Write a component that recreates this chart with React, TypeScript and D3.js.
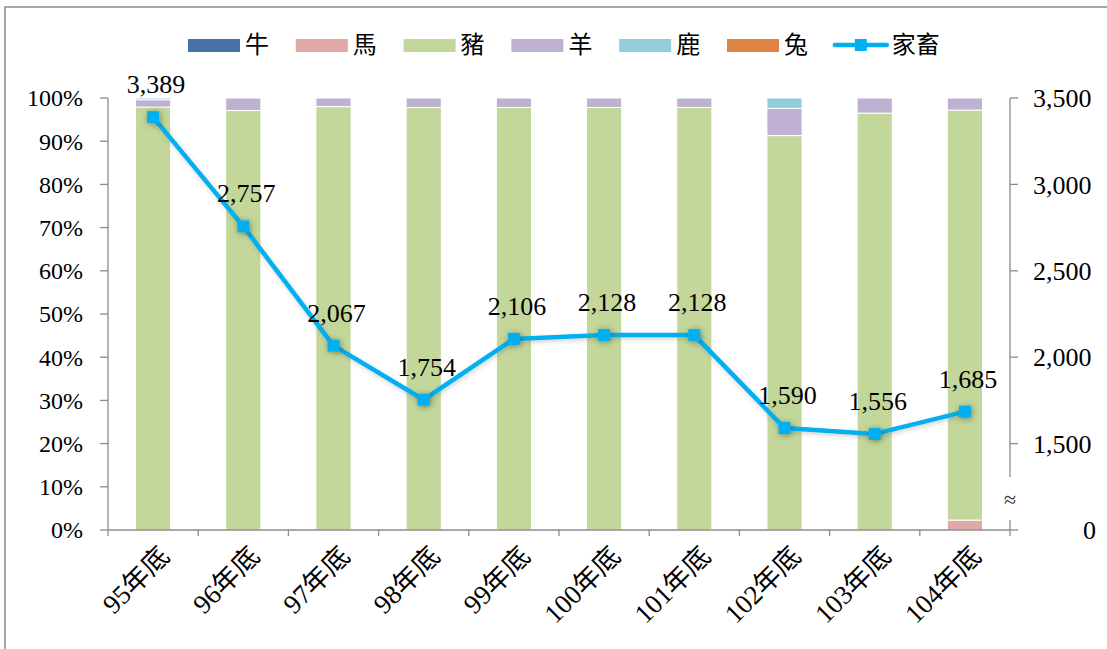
import React from "react";
import * as d3 from "d3";

const categories = ["95年底", "96年底", "97年底", "98年底", "99年底", "100年底", "101年底", "102年底", "103年底", "104年底"];
const cattle = [0, 0, 0, 0, 0, 0, 0, 0, 0, 0];
const horse = [0, 0, 0, 0, 0, 0, 0, 0, 0, 2.3];
const pig = [97.9, 97.1, 98.0, 97.8, 97.8, 97.8, 97.8, 91.3, 96.5, 94.9];
const sheep = [1.7, 2.9, 2.0, 2.2, 2.2, 2.2, 2.2, 6.3, 3.5, 2.8];
const deer = [0.4, 0, 0, 0, 0, 0, 0, 2.4, 0, 0];
const rabbit = [0, 0, 0, 0, 0, 0, 0, 0, 0, 0];
const livestock = [3389, 2757, 2067, 1754, 2106, 2128, 2128, 1590, 1556, 1685];

const seriesNames = ["牛", "馬", "豬", "羊", "鹿", "兔"];
const seriesColors = ["#4672A8", "#E0A9A7", "#C4D79B", "#BFB1D1", "#93CDDC", "#DE8440"];
const seriesValues = [cattle, horse, pig, sheep, deer, rabbit];
const lineName = "家畜";
const lineColor = "#00B0F0";

const pctTicks = [0, 10, 20, 30, 40, 50, 60, 70, 80, 90, 100];
const rightTicks = [1500, 2000, 2500, 3000, 3500];

const W = 1107, H = 649;
const L = 108, R = 1010, T = 98, B = 530;
const serif = "'Liberation Serif', 'Times New Roman', 'Noto Sans CJK TC', serif";
const axisColor = "#8C8C8C";

export default function App() {
  const x = d3.scaleBand<string>().domain(categories).range([L, R]).paddingInner(0.61).paddingOuter(0.305);
  const step = (R - L) / categories.length;
  const yP = d3.scaleLinear().domain([0, 100]).range([B, T]);
  const yR = d3.scaleLinear().domain([1000, 3500]).range([B, T]);

  const rows = categories.map((c, i) => {
    const o: any = { cat: c };
    seriesNames.forEach((s, k) => (o[s] = seriesValues[k][i]));
    return o;
  });
  const stacked = d3.stack<any>().keys(seriesNames)(rows);

  const cx = (c: string) => (x(c) as number) + x.bandwidth() / 2;
  const pts: [number, number][] = categories.map((c, i) => [cx(c), yR(livestock[i])]);
  const line = d3.line()(pts) as string;

  const legendX0 = 188, legendStep = 107.8;
  const legendItems = [...seriesNames, lineName];

  return (
    <svg width={W} height={H} style={{ position: "absolute", left: 0, top: 0, background: "#fff" }}>
      <defs>
        <filter id="sh" x="-100%" y="-100%" width="300%" height="300%">
          <feDropShadow dx="1" dy="1" stdDeviation="3" floodColor="#3a3a20" floodOpacity="0.55" />
        </filter>
        <filter id="lsh" x="-10%" y="-10%" width="120%" height="120%">
          <feDropShadow dx="1" dy="2" stdDeviation="2" floodColor="#444" floodOpacity="0.25" />
        </filter>
      </defs>
      <rect x={5} y={7} width={W + 20} height={H + 20} fill="none" stroke="#8a8a8a" strokeWidth={1.5} />

      {/* bars */}
      {stacked.map((s, k) => (
        <g key={s.key} fill={seriesColors[k]}>
          {s.map((d, i) => {
            const h = yP(d[0]) - yP(d[1]);
            if (h <= 0.01) return null;
            return (
              <rect key={i} x={x(categories[i])} y={yP(d[1])} width={x.bandwidth()} height={h} stroke="#fff" strokeWidth={1} />
            );
          })}
        </g>
      ))}

      {/* left axis */}
      <line x1={L} x2={L} y1={T} y2={B} stroke={axisColor} strokeWidth={1.3} />
      {pctTicks.map((t) => (
        <g key={t}>
          <line x1={L - 8} x2={L} y1={yP(t)} y2={yP(t)} stroke={axisColor} strokeWidth={1.3} />
          <text x={83} y={yP(t)} dy="0.35em" textAnchor="end" fontFamily={serif} fontSize={24} fill="#000">
            {t}%
          </text>
        </g>
      ))}

      {/* bottom axis */}
      <line x1={L} x2={R} y1={B} y2={B} stroke={axisColor} strokeWidth={1.3} />
      {d3.range(categories.length + 1).map((i) => (
        <line key={i} x1={L + i * step} x2={L + i * step} y1={B} y2={B + 6} stroke={axisColor} strokeWidth={1.3} />
      ))}
      {categories.map((c) => (
        <text
          key={c}
          transform={`translate(${cx(c) + 18},${B + 28}) rotate(-45)`}
          textAnchor="end"
          fontFamily={serif}
          fontSize={27}
          fill="#000"
        >
          {c}
        </text>
      ))}

      {/* right axis (broken) */}
      <line x1={R} x2={R} y1={T} y2={477} stroke={axisColor} strokeWidth={1.3} />
      <line x1={R} x2={R} y1={520} y2={B} stroke={axisColor} strokeWidth={1.3} />
      <line x1={R} x2={R + 8} y1={B} y2={B} stroke={axisColor} strokeWidth={1.3} />
      <text x={R} y={499} dy="0.35em" textAnchor="middle" fontFamily={serif} fontSize={22} fill="#333">≈</text>
      <text x={1083} y={B} dy="0.35em" textAnchor="start" fontFamily={serif} fontSize={26} fill="#000">0</text>
      {rightTicks.map((t) => (
        <g key={t}>
          <line x1={R} x2={R + 8} y1={yR(t)} y2={yR(t)} stroke={axisColor} strokeWidth={1.3} />
          <text x={1033} y={yR(t)} dy="0.35em" textAnchor="start" fontFamily={serif} fontSize={26} fill="#000">
            {d3.format(",")(t)}
          </text>
        </g>
      ))}

      {/* line */}
      <path d={line} fill="none" stroke={lineColor} strokeWidth={4.5} strokeLinejoin="round" filter="url(#lsh)" />
      {pts.map(([px, py], i) => (
        <rect key={i} x={px - 6} y={py - 6} width={12} height={12} fill={lineColor} filter="url(#sh)" />
      ))}
      {pts.map(([px, py], i) => (
        <text key={i} x={px + 3} y={py - 24} textAnchor="middle" fontFamily={serif} fontSize={26} fill="#000">
          {d3.format(",")(livestock[i])}
        </text>
      ))}

      {/* legend */}
      {legendItems.map((name, i) => {
        const lx = legendX0 + i * legendStep;
        const isLine = i === legendItems.length - 1;
        return (
          <g key={name}>
            {isLine ? (
              <g>
                <line x1={lx} x2={lx + 52} y1={45} y2={45} stroke={lineColor} strokeWidth={4.5} strokeLinecap="round" />
                <rect x={lx + 20} y={39} width={12} height={12} fill={lineColor} />
              </g>
            ) : (
              <rect x={lx} y={39} width={52} height={13} fill={seriesColors[i]} />
            )}
            <text x={lx + 57} y={45} dy="0.35em" fontFamily={serif} fontSize={24} fill="#000">
              {name}
            </text>
          </g>
        );
      })}
    </svg>
  );
}
